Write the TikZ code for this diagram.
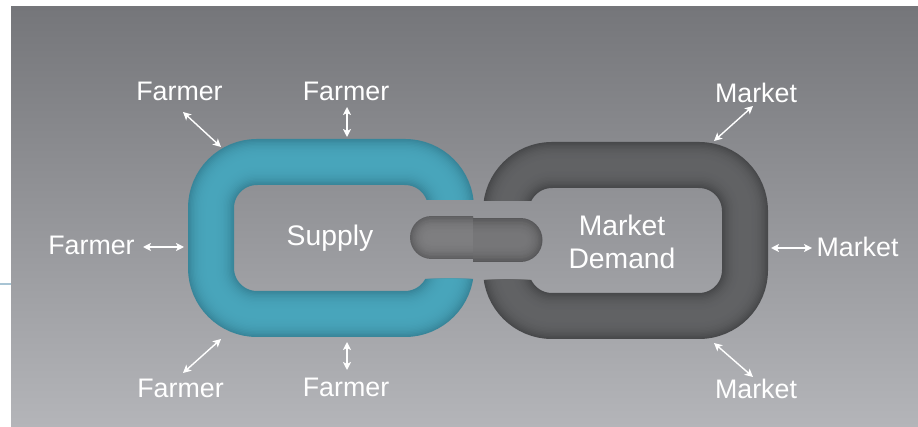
\documentclass[tikz,border=0pt]{standalone}
\usepackage{fontspec}
\setmainfont{Liberation Sans}
\usetikzlibrary{arrows.meta}
\definecolor{bgtop}{HTML}{75767A}
\definecolor{bgbot}{HTML}{B4B5B9}
\definecolor{tealedge}{HTML}{38869A}
\definecolor{tealmid}{HTML}{48A5BB}
\definecolor{darkedge}{HTML}{48494B}
\definecolor{darkmid}{HTML}{616264}
\definecolor{pilledge}{HTML}{5E5E60}
\definecolor{pillmid}{HTML}{7E7E80}
\definecolor{sideline}{HTML}{A8C4D4}
\begin{document}
\begin{tikzpicture}[x=1pt,y=-1pt,
  lbl/.style={text=white,font=\fontsize{26.8}{32}\selectfont,inner sep=0pt,anchor=base},
  inlbl/.style={text=white,font=\fontsize{28.3}{33}\selectfont,inner sep=0pt,align=center},
  dbl/.style={white,line width=1.4pt,{Stealth[length=8pt,width=8pt,inset=2pt]}-{Stealth[length=8pt,width=8pt,inset=2pt]}}
]
\useasboundingbox (0,0) rectangle (918,427);
\fill[white] (0,0) rectangle (918,427);
\shade[top color=bgtop,bottom color=bgbot] (11,7) rectangle (918,427);
\draw[sideline,line width=1.5pt] (0,284) -- (11,284);

% teal link (Supply)
\begin{scope}
  \clip (0,0) rectangle (420,427) (0,0) rectangle (918,200) (0,279) rectangle (918,427);
  \foreach \i in {0,...,15}{
    \pgfmathsetmacro\w{46-2.8*\i}
    \pgfmathsetmacro\p{100*(\w/46)^3}
    \draw[line width=\w pt,color=tealedge!\p!tealmid,rounded corners=46] (211,162) rectangle (451,314);
  }
\end{scope}

% dark link (Market Demand)
\begin{scope}
  \clip (540,0) rectangle (918,427) (0,0) rectangle (918,201) (0,280) rectangle (918,427);
  \foreach \i in {0,...,15}{
    \pgfmathsetmacro\w{46-2.8*\i}
    \pgfmathsetmacro\p{100*(\w/46)^3}
    \draw[line width=\w pt,color=darkedge!\p!darkmid,rounded corners=46] (506,165) rectangle (745,316);
  }
\end{scope}

% pill (connecting piece)
\begin{scope}
  \clip (0,0) rectangle (473,427);
  \foreach \i in {0,...,14}{
    \pgfmathsetmacro\w{43-2.8*\i}
    \pgfmathsetmacro\p{100*(\w/43)^3}
    \draw[line width=\w pt,color=pilledge!\p!pillmid,line cap=round] (431.5,237.5) -- (500,237.5);
  }
\end{scope}
\begin{scope}
  \clip (473,0) rectangle (918,427);
  \foreach \i in {0,...,14}{
    \pgfmathsetmacro\w{44-2.8*\i}
    \pgfmathsetmacro\p{100*(\w/44)^3}
    \draw[line width=\w pt,color=pilledge!\p!pillmid!94!black,line cap=round] (440,240) -- (520.5,240);
  }
\end{scope}

% inner labels
\node[inlbl] (supply) at (330,238.5) {Supply};
\node[inlbl] (demand) at (622,241.5) {Market\\Demand};

% outer labels
\node[lbl] (f1) at (179.5,100.5) {Farmer};
\node[lbl] (f2) at (346,101) {Farmer};
\node[lbl] (f3) at (91.5,255) {Farmer};
\node[lbl] (f4) at (180.5,397) {Farmer};
\node[lbl] (f5) at (346,396) {Farmer};
\node[lbl] (m1) at (756,103) {Market};
\node[lbl] (m2) at (857.5,257) {Market};
\node[lbl] (m3) at (756,398) {Market};

% arrow end points
\coordinate (f1a) at (183,112);  \coordinate (f1b) at (221,147);
\coordinate (f2a) at (347,107);  \coordinate (f2b) at (347,137);
\coordinate (f3a) at (143,247);  \coordinate (f3b) at (184,247);
\coordinate (f4a) at (183,373);  \coordinate (f4b) at (221,339);
\coordinate (f5a) at (347,370);  \coordinate (f5b) at (347,342);
\coordinate (m1a) at (753,106);  \coordinate (m1b) at (714,141);
\coordinate (m2a) at (812,248);  \coordinate (m2b) at (771,248);
\coordinate (m3a) at (753,377);  \coordinate (m3b) at (714,343);

\draw[dbl] (f1a) -- (f1b);
\draw[dbl] (f2a) -- (f2b);
\draw[dbl] (f3a) -- (f3b);
\draw[dbl] (f4a) -- (f4b);
\draw[dbl] (f5a) -- (f5b);
\draw[dbl] (m1a) -- (m1b);
\draw[dbl] (m2a) -- (m2b);
\draw[dbl] (m3a) -- (m3b);
\end{tikzpicture}
\end{document}
